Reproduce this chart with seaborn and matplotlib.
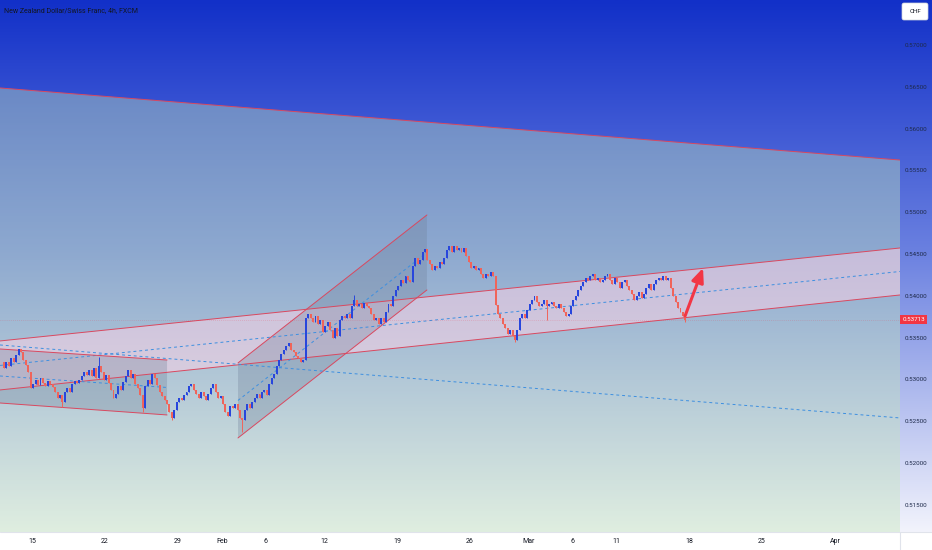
import numpy as np
import pandas as pd
import seaborn as sns
import matplotlib.pyplot as plt
from matplotlib.colors import LinearSegmentedColormap
from matplotlib.patches import Polygon, FancyBboxPatch, Rectangle
from matplotlib.transforms import blended_transform_factory

# ---- data ----
title = "New Zealand Dollar/Swiss Franc, 4h, FXCM"
currency = "CHF"
last_price = 0.53713

# 4h candles, six per trading day; the first bar starts two trading days before Jan 15
bars_per_day = 6
first_bar_day = -2.0
first_open = 0.5321
closes = [
    0.5314, 0.5321, 0.5316, 0.5326, 0.5321, 0.5329,
    0.5336, 0.5333, 0.5323, 0.5317, 0.5309, 0.5290,
    0.5295, 0.5299, 0.5293, 0.5302, 0.5296, 0.5292,
    0.5298, 0.5295, 0.5291, 0.5285, 0.5278, 0.5281,
    0.5273, 0.5285, 0.5290, 0.5285, 0.5295, 0.5298,
    0.5296, 0.5299, 0.5304, 0.5309, 0.5305, 0.5311,
    0.5304, 0.5314, 0.5302, 0.5316, 0.5309, 0.5299,
    0.5305, 0.5296, 0.5287, 0.5278, 0.5283, 0.5292,
    0.5287, 0.5297, 0.5304, 0.5311, 0.5302, 0.5307,
    0.5295, 0.5290, 0.5281, 0.5266, 0.5292, 0.5299,
    0.5295, 0.5307, 0.5302, 0.5293, 0.5285, 0.5280,
    0.5275, 0.5271, 0.5261, 0.5254, 0.5263, 0.5273,
    0.5278, 0.5275, 0.5281, 0.5285, 0.5292, 0.5295,
    0.5287, 0.5283, 0.5278, 0.5285, 0.5280, 0.5275,
    0.5283, 0.5290, 0.5295, 0.5285, 0.5278, 0.5280,
    0.5271, 0.5261, 0.5256, 0.5268, 0.5266, 0.5271,
    0.5263, 0.5254, 0.5252, 0.5263, 0.5271, 0.5266,
    0.5273, 0.5278, 0.5283, 0.5278, 0.5285, 0.5287,
    0.5281, 0.5295, 0.5302, 0.5307, 0.5316, 0.5323,
    0.5330, 0.5335, 0.5340, 0.5344, 0.5335, 0.5333,
    0.5328, 0.5326, 0.5321, 0.5323, 0.5374, 0.5378,
    0.5374, 0.5369, 0.5376, 0.5366, 0.5371, 0.5357,
    0.5364, 0.5369, 0.5359, 0.5350, 0.5361, 0.5352,
    0.5371, 0.5376, 0.5374, 0.5378, 0.5374, 0.5388,
    0.5395, 0.5388, 0.5390, 0.5385, 0.5391, 0.5388,
    0.5385, 0.5378, 0.5371, 0.5374, 0.5366, 0.5374,
    0.5369, 0.5381, 0.5390, 0.5388, 0.5400, 0.5407,
    0.5412, 0.5419, 0.5415, 0.5424, 0.5419, 0.5417,
    0.5436, 0.5445, 0.5438, 0.5443, 0.5452, 0.5456,
    0.5443, 0.5438, 0.5431, 0.5436, 0.5433, 0.5440,
    0.5438, 0.5445, 0.5455, 0.5460, 0.5452, 0.5460,
    0.5455, 0.5457, 0.5452, 0.5457, 0.5448, 0.5440,
    0.5433, 0.5436, 0.5431, 0.5433, 0.5426, 0.5421,
    0.5426, 0.5424, 0.5429, 0.5424, 0.5389, 0.5378,
    0.5374, 0.5366, 0.5361, 0.5354, 0.5359, 0.5352,
    0.5347, 0.5359, 0.5374, 0.5378, 0.5374, 0.5383,
    0.5390, 0.5395, 0.5400, 0.5393, 0.5388, 0.5390,
    0.5395, 0.5388, 0.5390, 0.5393, 0.5388, 0.5385,
    0.5390, 0.5385, 0.5381, 0.5376, 0.5378, 0.5388,
    0.5395, 0.5400, 0.5407, 0.5412, 0.5417, 0.5421,
    0.5419, 0.5424, 0.5426, 0.5419, 0.5421, 0.5417,
    0.5419, 0.5424, 0.5426, 0.5419, 0.5414, 0.5421,
    0.5417, 0.5409, 0.5417, 0.5419, 0.5412, 0.5407,
    0.5402, 0.5395, 0.5400, 0.5405, 0.5397, 0.5402,
    0.5409, 0.5414, 0.5407, 0.5414, 0.5419, 0.5421,
    0.5419, 0.5424, 0.5419, 0.5421, 0.5409, 0.5400,
    0.5393, 0.5385, 0.5381, 0.5376, 0.53713,
]
# long wicks that stand out (bar index -> price)
wick_lows = {24: 0.5267, 57: 0.5261, 69: 0.5251, 98: 0.5237, 210: 0.5345, 223: 0.5371, 280: 0.5369}
wick_highs = {39: 0.5327, 144: 0.5401}

# time axis in trading days from Jan 15 (weekends skipped)
date_ticks = [0, 5, 10, 13, 16, 20, 25, 30, 34, 37, 40, 45, 50, 55]
date_labels = ["15", "22", "29", "Feb", "6", "12", "19", "26", "Mar", "6", "11", "18", "25", "Apr"]
price_ticks = [0.515, 0.520, 0.525, 0.530, 0.535, 0.540, 0.545, 0.550, 0.555, 0.560, 0.565, 0.570]
x_range = (-2.19, 59.45)
y_range = (0.51175, 0.57538)

# drawing tools (trading day, price)
top_line_x = [-2.19, 59.45]
top_line_y = [0.56486, 0.55624]

main_channel_x = [-2.19, 59.45]
main_upper = [0.53460, 0.54572]
main_lower = [0.52874, 0.54010]

left_channel_x = [-2.19, 9.25]
left_upper = [0.53364, 0.53232]
left_lower = [0.52718, 0.52575]

steep_channel_x = [14.11, 27.05]
steep_upper = [0.53197, 0.54967]
steep_lower = [0.52300, 0.54070]

falling_dash_x = [-2.19, 59.45]
falling_dash_y = [0.53412, 0.52539]

arrow_start = (44.73, 0.53759)
arrow_end = (45.96, 0.54333)

# ---- style ----
up_color = "#2846dc"
down_color = "#f0645a"
line_red = "#d9485f"
dash_blue = "#3d8fe0"
text_color = "#131722"

sns.set_theme(style="white")
plt.rcParams["font.family"] = ["Roboto", "DejaVu Sans"]

W, H = 932, 550
fig = plt.figure(figsize=(W / 100, H / 100), dpi=100)

# background gradient (blue at top to near white at bottom), shared by plot and price scale
bg = fig.add_axes([0, 0, 1, 1], zorder=0)
bg.set_xlim(0, W)
bg.set_ylim(H, 0)
bg.axis("off")
grad = LinearSegmentedColormap.from_list(
    "bg", [(0.0, (18/255, 48/255, 200/255)), (0.47, (106/255, 128/255, 224/255)),
           (1.0, (242/255, 243/255, 252/255))])
bg.imshow(np.linspace(0, 1, 256).reshape(-1, 1), cmap=grad, aspect="auto",
          extent=(0, W, 532, 0), zorder=0)
bg.add_patch(Rectangle((0, 532), W, 18, fc="white", ec="none", zorder=1))
bg.plot([0, W], [532, 532], color="#e0e3eb", lw=0.8, zorder=2)
bg.plot([900, 900], [532, H], color="#e0e3eb", lw=0.8, zorder=2)
bg.add_patch(FancyBboxPatch((902, 3), 26, 17, boxstyle="round,pad=0,rounding_size=2",
                            fc="white", ec="#d1d4dc", lw=0.5, zorder=3))
bg.text(915, 11.5, currency, fontsize=4.5, color=text_color, ha="center", va="center", zorder=4)
fig.text(4 / W, 1 - 11 / H, title, fontsize=5, color=text_color, va="center")

ax = fig.add_axes([0, 18 / H, 900 / W, 532 / H], zorder=1)
ax.patch.set_alpha(0)
ax.set_xlim(*x_range)
ax.set_ylim(*y_range)
for s in ax.spines.values():
    s.set_visible(False)

# large channel below the top line
ax.add_patch(Polygon([(top_line_x[0], top_line_y[0]), (top_line_x[1], top_line_y[1]),
                      (top_line_x[1], y_range[0]), (top_line_x[0], y_range[0])],
                     closed=True, fc=(195/255, 230/255, 183/255), alpha=0.4, ec="none", zorder=1))
ax.plot(top_line_x, top_line_y, color=line_red, lw=0.7, zorder=2)


def channel(xs, upper, lower, face, alpha):
    ax.add_patch(Polygon([(xs[0], upper[0]), (xs[1], upper[1]), (xs[1], lower[1]), (xs[0], lower[0])],
                         closed=True, fc=face, alpha=alpha, ec="none", zorder=2))
    ax.plot(xs, upper, color=line_red, lw=0.7, zorder=3)
    ax.plot(xs, lower, color=line_red, lw=0.7, zorder=3)
    mid = [(upper[0] + lower[0]) / 2, (upper[1] + lower[1]) / 2]
    ax.plot(xs, mid, color=dash_blue, lw=0.7, ls=(0, (3, 3)), zorder=3)


channel(main_channel_x, main_upper, main_lower, "#ffd2e6", 0.5)
channel(left_channel_x, left_upper, left_lower, "#6f7f98", 0.3)
channel(steep_channel_x, steep_upper, steep_lower, "#6f7f98", 0.3)
ax.plot(falling_dash_x, falling_dash_y, color=dash_blue, lw=0.7, ls=(0, (3, 3)), zorder=3)

ax.axhline(last_price, color="#f23645", lw=0.5, alpha=0.35, ls=(0, (1, 2)), zorder=3)

# candles
df = pd.DataFrame({"close": closes})
df["open"] = [first_open] + closes[:-1]
df["x"] = first_bar_day + (np.arange(len(df)) + 0.5) / bars_per_day
df["high"] = df[["open", "close"]].max(axis=1)
df["low"] = df[["open", "close"]].min(axis=1)
for k, v in wick_lows.items():
    df.loc[k, "low"] = v
for k, v in wick_highs.items():
    df.loc[k, "high"] = v
df["color"] = np.where(df["close"] >= df["open"], up_color, down_color)
body_low = df[["open", "close"]].min(axis=1)
body_h = (df["close"] - df["open"]).abs().clip(lower=0.00006)

ax.vlines(df["x"], df["low"], df["high"], colors=df["color"], lw=0.7, zorder=5)
ax.bar(df["x"], body_h, bottom=body_low, width=0.8 / bars_per_day, color=df["color"],
       linewidth=0, zorder=6)

ax.annotate("", xy=arrow_end, xytext=arrow_start,
            arrowprops=dict(arrowstyle="-|>,head_length=0.7,head_width=0.3", color="#f23645",
                            lw=2.2, shrinkA=0, shrinkB=0), zorder=7)

# axes labels
ax.set_xticks(date_ticks, date_labels)
ax.set_yticks(price_ticks, [f"{p:.5f}" for p in price_ticks])
ax.yaxis.tick_right()
ax.tick_params(axis="x", length=0, pad=4, labelsize=5, labelcolor=text_color)
ax.tick_params(axis="y", length=0, pad=3.5, labelsize=4.5, labelcolor="#1e2a4a")
ax.grid(False)

tr = blended_transform_factory(ax.transAxes, ax.transData)
ax.text(1.0025, last_price, f"{last_price:.5f}", transform=tr, fontsize=4.5, color="white",
        ha="left", va="center", clip_on=False, zorder=8,
        bbox=dict(boxstyle="square,pad=0.35", fc="#f23645", ec="none"))

fig.savefig("out.png", dpi=100)
